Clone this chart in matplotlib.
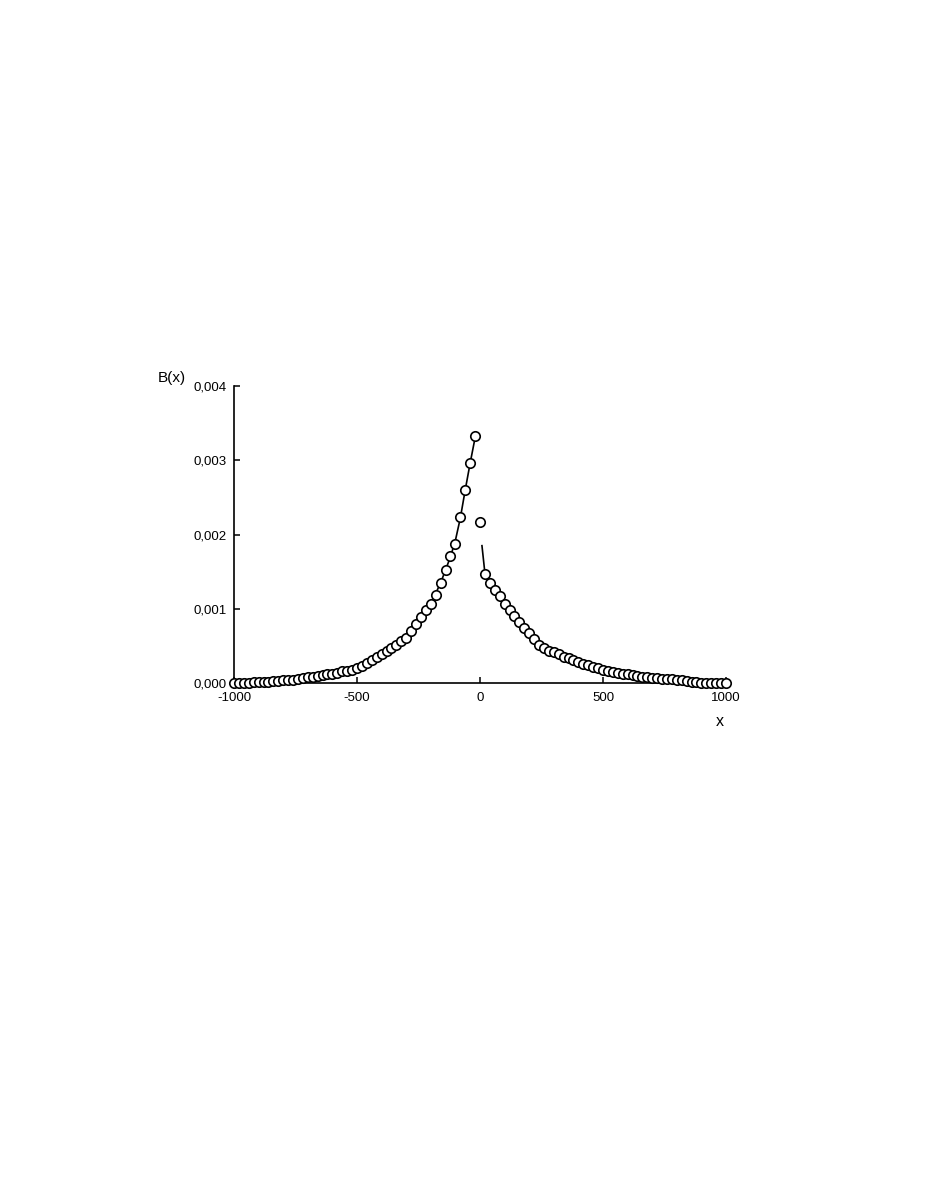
import numpy as np
import matplotlib
matplotlib.use("Agg")
import matplotlib.pyplot as plt

plt.rcParams['font.family'] = ['Liberation Sans', 'DejaVu Sans']

# measured points, x step 20
x_left = np.arange(-1000, 0, 20)
b_left = [0.0, 0.000003, 0.000005, 0.00001, 0.000012, 0.000015, 0.00002, 0.000022,
          0.000028, 0.000035, 0.00004, 0.000045, 0.00005, 0.00006, 0.00007, 0.00008,
          0.00009, 0.0001, 0.00011, 0.00012, 0.00013, 0.00014, 0.00016, 0.00017,
          0.00018, 0.0002, 0.00023, 0.00027, 0.00031, 0.00035, 0.00039, 0.00043,
          0.00048, 0.00052, 0.00057, 0.00061, 0.0007, 0.0008, 0.00089, 0.00098,
          0.00107, 0.00119, 0.00135, 0.00152, 0.00171, 0.00187, 0.00224, 0.0026,
          0.00296, 0.00332]
x_mid = [0]
b_mid = [0.00217]
x_right = np.arange(20, 1001, 20)
b_right = [0.00147, 0.00135, 0.00126, 0.00117, 0.00107, 0.00099, 0.0009, 0.00082,
           0.00074, 0.00067, 0.00059, 0.00051, 0.00047, 0.00044, 0.00042, 0.00039,
           0.00036, 0.00034, 0.00031, 0.00029, 0.00026, 0.00024, 0.00022, 0.0002,
           0.000175, 0.00016, 0.00015, 0.00014, 0.00013, 0.00012, 0.00011, 0.0001,
           0.00009, 0.000085, 0.000077, 0.00007, 0.000063, 0.000058, 0.000054,
           0.00005, 0.00004, 0.000031, 0.000023, 0.000017, 0.00001, 0.000004,
           0.000002, 0.0, 0.0, 0.0]

# model curve (two branches)
line_lx = [-1000, -900, -800, -700, -600, -500, -450, -400, -350, -300, -250,
           -200, -160, -120, -100, -80, -60, -40, -20]
line_ly = [0.0, 0.000015, 0.00004, 0.00008, 0.00013, 0.0002, 0.00029, 0.00039,
           0.0005, 0.00063, 0.00082, 0.00107, 0.00135, 0.0017, 0.00192, 0.00222,
           0.0026, 0.00296, 0.0033]
line_rx = [8, 20, 40, 60, 80, 100, 150, 200, 250, 300, 400, 500, 600, 700,
           800, 900, 1000]
line_ry = [0.00185, 0.00148, 0.00135, 0.00126, 0.00117, 0.00107, 0.00086,
           0.00067, 0.0005, 0.00042, 0.00029, 0.0002, 0.00013, 0.00008,
           0.00005, 0.000015, 0.0]

xticks = [-1000, -500, 0, 500, 1000]
yticks = [0.0, 0.001, 0.002, 0.003, 0.004]
ytick_labels = ["0,000", "0,001", "0,002", "0,003", "0,004"]

fig = plt.figure(figsize=(9.26, 11.99), dpi=100)
ax = fig.add_axes([0.2527, 0.4301, 0.5313, 0.2482])

ax.plot(line_lx, line_ly, color='black', lw=1.2, zorder=2)
ax.plot(line_rx, line_ry, color='black', lw=1.2, zorder=2)

mk = dict(linestyle='none', marker='o', markersize=6.8, markerfacecolor='white',
          markeredgecolor='black', markeredgewidth=1.2, clip_on=False, zorder=3)
ax.plot(x_left, b_left, **mk)
ax.plot(x_mid, b_mid, **mk)
ax.plot(x_right, b_right, **mk)

ax.set_xlim(-1000, 1000)
ax.set_ylim(0, 0.004)
ax.set_xticks(xticks)
ax.set_xticklabels([str(t) for t in xticks])
ax.set_yticks(yticks)
ax.set_yticklabels(ytick_labels)
ax.tick_params(direction='in', length=4, width=1.1, labelsize=9.5, pad=6)
ax.tick_params(axis='y', pad=5)

for s in ['top', 'right']:
    ax.spines[s].set_visible(False)
for s in ['left', 'bottom']:
    ax.spines[s].set_linewidth(1.2)

fig.text(172 / 926, 1 - 378 / 1199, "B(x)", fontsize=11, ha='center', va='center')
fig.text(720 / 926, 1 - 721 / 1199, "x", fontsize=11.5, ha='center', va='center')

fig.savefig("out.png", dpi=100)
